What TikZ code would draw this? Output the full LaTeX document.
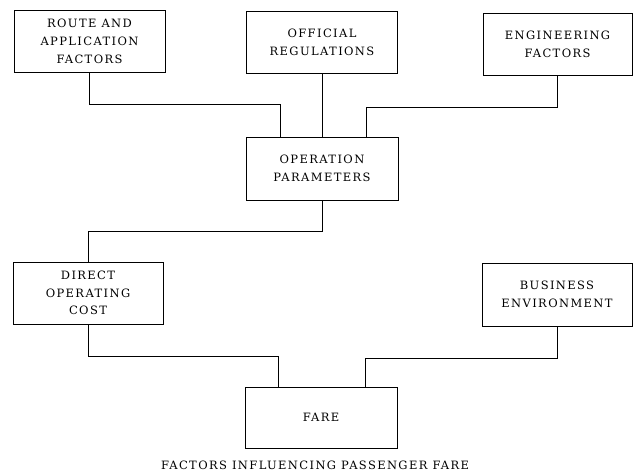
\documentclass[tikz,border=0pt]{standalone}
\usepackage{fontspec}
\setmainfont{DejaVu Serif}[LetterSpace=12]
\begin{document}
\begin{tikzpicture}[x=1pt,y=-1pt,
  box/.style={draw=black, line width=0.9pt, rectangle, inner sep=0pt,
    minimum width=151pt, minimum height=62pt, align=center,
    font=\fontsize{11.5}{17.8}\selectfont},
  link/.style={draw=black, line width=0.9pt}]
\useasboundingbox (0,0) rectangle (634,471);

% blocks
\node[box] (route) at (89.5,41.5) {ROUTE AND\\APPLICATION\\FACTORS};
\node[box] (regs)  at (322,42.5) {OFFICIAL\\REGULATIONS};
\node[box, minimum width=149pt] (eng) at (557.5,44) {ENGINEERING\\FACTORS};
\node[box, minimum width=152pt, minimum height=63pt] (ops) at (322,168.5) {OPERATION\\PARAMETERS};
\node[box, minimum width=150pt] (doc) at (88,293) {DIRECT\\OPERATING\\COST};
\node[box, minimum width=150pt, minimum height=63pt] (biz) at (557,294.5) {BUSINESS\\ENVIRONMENT};
\node[box, minimum width=152pt, minimum height=61pt] (fare) at (321,417.5) {FARE};

% caption
\node[font=\fontsize{11.5}{14}\selectfont, inner sep=0pt] (cap) at (315,465)
  {FACTORS INFLUENCING PASSENGER FARE};

% connectors
\path[link] (route.south) -- ++(0,31) -| ([xshift=-42pt]ops.north);
\path[link] (regs.south) -- (ops.north);
\path[link] (eng.south) -- ++(0,32) -| ([xshift=44pt]ops.north);
\path[link] (ops.south) -- ++(0,31) -| (doc.north);
\path[link] (doc.south) -- ++(0,32) -| ([xshift=-43pt]fare.north);
\path[link] (biz.south) -- ++(0,32) -| ([xshift=44pt]fare.north);
\end{tikzpicture}
\end{document}
